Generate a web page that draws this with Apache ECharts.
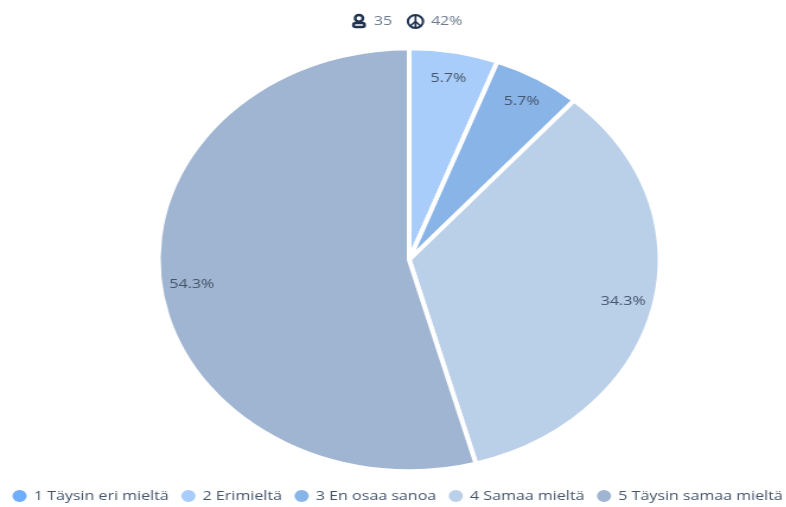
<!DOCTYPE html>
<html>
<head>
<meta charset="utf-8">
<style>
  html, body { margin: 0; padding: 0; background: #fff; overflow: hidden; }
  /* The plot is drawn on a narrower canvas and widened, which gives the oval pie. */
  #chart { width: 663px; height: 507px; transform: scaleX(1.186); transform-origin: 0 0; }
</style>
<script src="https://cdn.jsdelivr.net/npm/echarts@6/dist/echarts.min.js"></script>
</head>
<body>
<div id="chart"></div>
<script>
const categories = ['1 Täysin eri mieltä', '2 Erimieltä', '3 En osaa sanoa', '4 Samaa mieltä', '5 Täysin samaa mieltä'];
const counts = [0, 2, 2, 12, 19];
const colors = ['#6eaefc', '#a9cdfa', '#89b4e8', '#bad0e9', '#a0b5d1'];
const respondents = '35';
const responseRate = '42%';

const FONT = '"Open Sans", sans-serif';
const TEXT = '#44546a';
const ICON = '#1f3350';
const CX = 345, CY = 259.7, R = 211.5;
const LABEL_RADIUS = 182;

const total = counts.reduce((a, b) => a + b, 0);

// Clockwise angle from twelve o'clock to the middle of a slice
function midAngle(index) {
  const before = counts.slice(0, index).reduce((a, b) => a + b, 0);
  return (before + counts[index] / 2) / total * 2 * Math.PI;
}

const PX = 350.3, PY = 21.5, PR = 6.4;
const chart = echarts.init(document.getElementById('chart'), null, { renderer: 'canvas' });
chart.setOption({
  animation: false,
  color: colors,
  legend: {
    orient: 'horizontal',
    bottom: -2,
    left: 3.5,
    width: 720,
    itemWidth: 14,
    itemHeight: 14,
    itemGap: 8.6,
    icon: 'circle',
    textStyle: { color: TEXT, fontFamily: FONT, fontSize: 13.5 },
    data: categories
  },
  graphic: [
    // Person icon next to the respondent count
    { type: 'circle', shape: { cx: 302.7, cy: 18.3, r: 3.3 }, style: { fill: 'none', stroke: ICON, lineWidth: 2.4 } },
    { type: 'rect', shape: { x: 298, y: 23, width: 9.4, height: 4, r: 2 }, style: { fill: 'none', stroke: ICON, lineWidth: 2.4 } },
    { type: 'text', style: { x: 315.3, y: 21, text: respondents, fill: '#6b7a8c', font: '13.5px ' + FONT, verticalAlign: 'middle' } },
    // Peace symbol next to the response rate
    { type: 'circle', shape: { cx: PX, cy: PY, r: PR }, style: { fill: 'none', stroke: ICON, lineWidth: 2 } },
    { type: 'line', shape: { x1: PX, y1: PY - PR, x2: PX, y2: PY + PR }, style: { stroke: ICON, lineWidth: 1.7 } },
    { type: 'line', shape: { x1: PX, y1: PY, x2: PX - PR * 0.7, y2: PY + PR * 0.7 }, style: { stroke: ICON, lineWidth: 1.7 } },
    { type: 'line', shape: { x1: PX, y1: PY, x2: PX + PR * 0.7, y2: PY + PR * 0.7 }, style: { stroke: ICON, lineWidth: 1.7 } },
    { type: 'text', style: { x: 363.4, y: 21, text: responseRate, fill: '#6b7a8c', font: '13.5px ' + FONT, verticalAlign: 'middle' } }
  ],
  series: [{
    type: 'pie',
    center: [CX, CY],
    radius: [0, R],
    startAngle: 90,
    clockwise: true,
    avoidLabelOverlap: false,
    itemStyle: { borderColor: '#fff', borderWidth: 4 },
    label: {
      show: true,
      position: 'inside',
      color: TEXT,
      fontFamily: FONT,
      fontSize: 13.5,
      formatter: p => p.value > 0 ? p.percent.toFixed(1) + '%' : ''
    },
    labelLine: { show: false },
    // Push the labels from the mid radius out towards the rim of each slice
    labelLayout: p => {
      const a = midAngle(p.dataIndex);
      const shift = LABEL_RADIUS - R / 2;
      return { dx: shift * Math.sin(a), dy: -shift * Math.cos(a) };
    },
    emphasis: { disabled: true },
    data: categories.map((name, i) => ({ name, value: counts[i] }))
  }]
});
</script>
</body>
</html>
